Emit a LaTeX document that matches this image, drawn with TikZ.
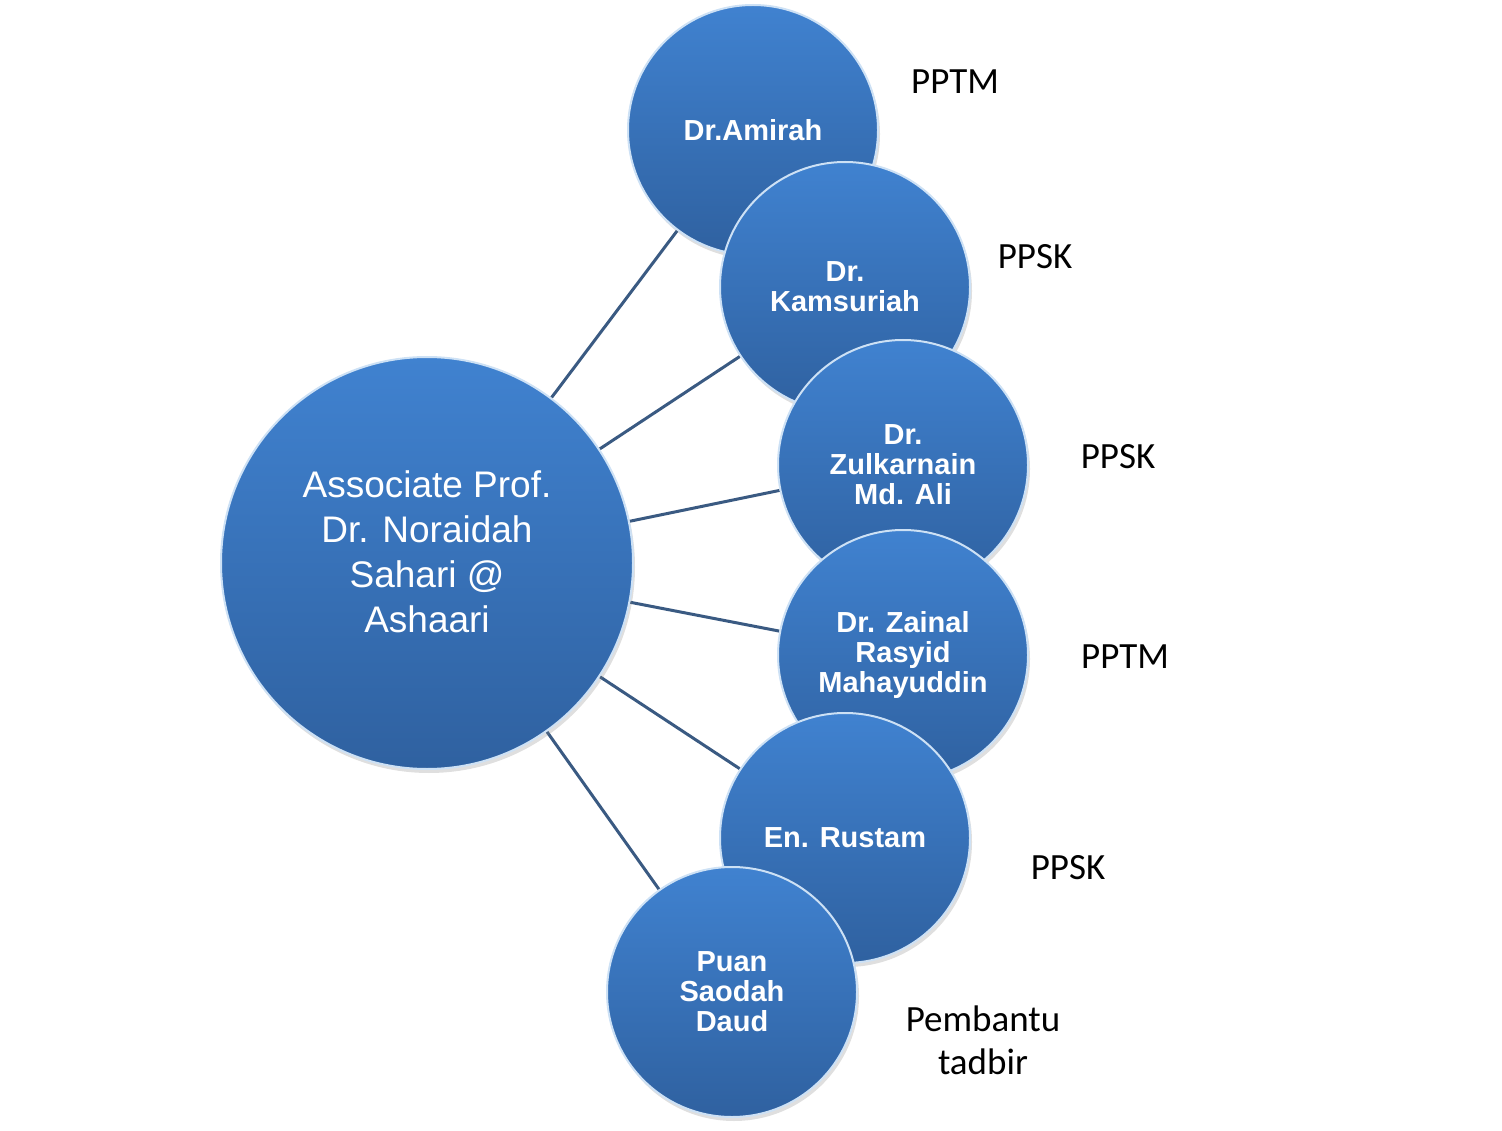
\documentclass[tikz,border=0pt]{standalone}
\usepackage{fontspec}
\setmainfont{Liberation Sans}
\newfontfamily\unitfont{Carlito}
\usetikzlibrary{shadows, backgrounds}

\definecolor{ballTop}{RGB}{64,130,208}
\definecolor{ballMid}{RGB}{56,116,190}
\definecolor{ballBottom}{RGB}{47,97,160}
\definecolor{ballRim}{RGB}{205,225,245}
\definecolor{linkBlue}{RGB}{58,90,130}

\begin{document}
\begin{tikzpicture}
[x=1pt, y=-1pt,
 ball/.style={circle, inner sep=0pt, align=center, text=white,
   top color=ballTop, middle color=ballMid, bottom color=ballBottom,
   draw=ballRim, line width=2pt,
   drop shadow={shadow xshift=2pt, shadow yshift=-4pt, opacity=.25}},
 boss/.style={ball, minimum size=412pt, font=\fontsize{37}{45}\selectfont},
 staff/.style={ball, minimum size=250pt, font=\fontsize{29}{30}\selectfont\bfseries},
 unit/.style={align=center, font=\unitfont\fontsize{37}{43}\selectfont},
 link/.style={draw=linkBlue, line width=3pt}
]
\useasboundingbox (0,0) rectangle (1502,1131);

\node[boss] (noraidah) at (427,563) {Associate Prof.\\Dr. Noraidah\\Sahari @\\Ashaari\\[-23pt]\mbox{}};

\node[staff] (amirah) at (753,130) {Dr.Amirah};
\node[staff] (kamsuriah) at (845,287) {Dr.\\Kamsuriah};
\node[staff] (zulkarnain) at (903,465) {Dr.\\Zulkarnain\\Md. Ali};
\node[staff] (zainal) at (903,655) {Dr. Zainal\\Rasyid\\Mahayuddin};
\node[staff] (rustam) at (845,838) {En. Rustam};
\node[staff] (saodah) at (732,992) {Puan\\Saodah\\Daud};

% units beside each staff
\node[unit] (u1) at (955,82) {PPTM};
\node[unit] (u2) at (1035,257) {PPSK};
\node[unit] (u3) at (1118,457) {PPSK};
\node[unit] (u4) at (1125,657) {PPTM};
\node[unit] (u5) at (1068,868) {PPSK};
\node[unit] (u6) at (983,1040) {Pembantu\\tadbir};

\begin{scope}[on background layer]
\foreach \s in {amirah, kamsuriah, zulkarnain, zainal, rustam, saodah}
  \draw[link] (noraidah) -- (\s);
\end{scope}
\end{tikzpicture}
\end{document}
